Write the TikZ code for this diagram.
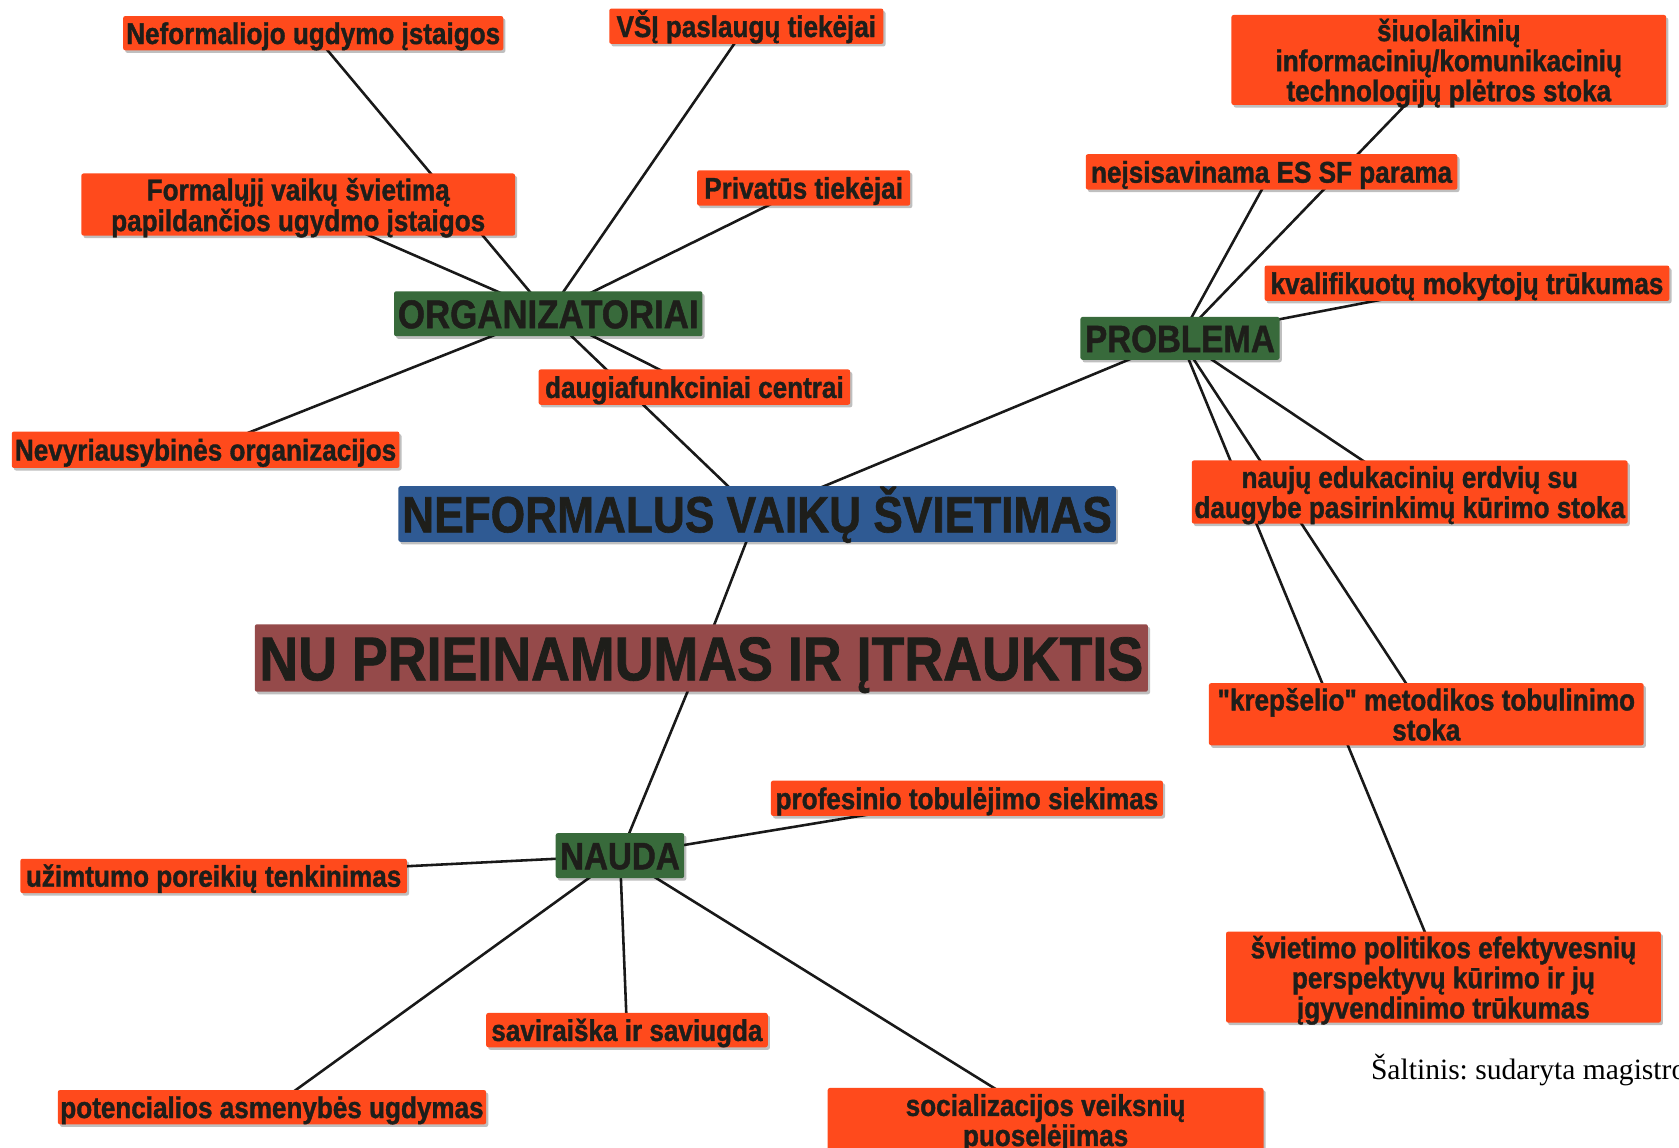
\documentclass[tikz,border=0pt]{standalone}
\usepackage{fontspec}
\newfontfamily\boxfont[FakeStretch=0.87, BoldFeatures={FakeBold=1.2}]{Liberation Sans}
\newfontfamily\srcfont{Liberation Serif}
\usetikzlibrary{shadows,backgrounds}
\definecolor{orangebox}{HTML}{FF4A1C}
\definecolor{greenbox}{HTML}{386A3B}
\definecolor{bluebox}{HTML}{2F5A93}
\definecolor{redbox}{HTML}{954A4A}
\definecolor{txt}{HTML}{1E1E1A}
\tikzset{
  box/.style={rectangle, rounded corners=1pt, inner sep=0pt, align=center, text=txt,
    text depth=0pt,
    drop shadow={shadow xshift=1pt, shadow yshift=-1.2pt, opacity=0.25, fill=black}},
  oneline/.style={text height=#1, text depth=0pt},
  leaf/.style={box, fill=orangebox, font=\boxfont\bfseries\fontsize{14}{13}\selectfont},
  leafone/.style={leaf, oneline=10.1pt},
  hub/.style={box, oneline=12.8pt, fill=greenbox, font=\boxfont\bfseries\fontsize{17.8}{18}\selectfont},
  rootbox/.style={box, oneline=17.1pt, fill=bluebox, font=\boxfont\bfseries\fontsize{23.75}{24}\selectfont},
  topbox/.style={box, oneline=20.8pt, fill=redbox, font=\boxfont\bfseries\fontsize{28.85}{29}\selectfont},
  wh/.style 2 args={minimum width=#1*0.5pt, minimum height=#2*0.5pt},
  link/.style={draw=black!90, line width=1.2pt},
}
\begin{document}
\begin{tikzpicture}[x=0.5pt,y=-0.5pt]
\useasboundingbox (0,0) rectangle (1568,1072);
\begin{scope}[on background layer]
  \fill[white] (0,0) rectangle (1568,1072);
\end{scope}

% ORGANIZATORIAI branch
\node[leafone, wh={355}{32}] (nefo) at (292.5,31) {Neformaliojo ugdymo įstaigos};
\node[leafone, wh={256}{33}] (vsi) at (697,24.5) {VŠĮ paslaugų tiekėjai};
\node[leaf, wh={405}{58}] (formal) at (278.5,191) {Formalųjį vaikų švietimą\\papildančios ugydmo įstaigos};
\node[leafone, wh={199}{33}] (priv) at (750.5,175.5) {Privatūs tiekėjai};
\node[hub, wh={288}{42}, oneline=13.5pt, font=\boxfont\bfseries\fontsize{18.7}{19}\selectfont] (org) at (512,293) {ORGANIZATORIAI};
\node[leafone, wh={291}{33}] (daug) at (648.5,361.5) {daugiafunkciniai centrai};
\node[leafone, wh={362}{34}] (nvo) at (192,420) {Nevyriausybinės organizacijos};

% centre
\node[rootbox, wh={670}{52}] (nef) at (707,480) {NEFORMALUS VAIKŲ ŠVIETIMAS};
\node[topbox, wh={834}{63}] (nu) at (655,614.5) {NU PRIEINAMUMAS IR ĮTRAUKTIS};

% PROBLEMA branch
\node[leaf, wh={406}{84}] (siuol) at (1353,56) {šiuolaikinių\\informacinių/komunikacinių\\technologijų plėtros stoka};
\node[leafone, wh={347}{33}] (neis) at (1187.5,160.5) {neįsisavinama ES SF parama};
\node[leafone, wh={378}{33}] (kval) at (1370,264.5) {kvalifikuotų mokytojų trūkumas};
\node[hub, wh={186}{40}] (prob) at (1102,316) {PROBLEMA};
\node[leaf, wh={407}{59}] (nauju) at (1316.5,459.5) {naujų edukacinių erdvių su\\daugybe pasirinkimų kūrimo stoka};
\node[leaf, wh={406}{58}] (krep) at (1332,667) {"krepšelio" metodikos tobulinimo\\stoka};
\node[leaf, wh={406}{85}] (svp) at (1348,912.5) {švietimo politikos efektyvesnių\\perspektyvų kūrimo ir jų\\įgyvendinimo trūkumas};

% NAUDA branch
\node[leafone, wh={366}{33}] (prof) at (903,745.5) {profesinio tobulėjimo siekimas};
\node[hub, wh={120}{42}] (nauda) at (579,799) {NAUDA};
\node[leafone, wh={361}{32}] (uzim) at (199.5,818) {užimtumo poreikių tenkinimas};
\node[leafone, wh={263}{32}] (savi) at (585.5,962) {saviraiška ir saviugda};
\node[leafone, wh={400}{32}] (pot) at (254,1034) {potencialios asmenybės ugdymas};
\node[leaf, wh={407}{60}] (soc) at (976.5,1046) {socializacijos veiksnių\\puoselėjimas};

\node[font=\srcfont\fontsize{13.8}{16}\selectfont\frenchspacing, anchor=base west, inner sep=0pt, text=black] (src) at (1280,1008) {Šaltinis: sudaryta magistro};

\begin{scope}[on background layer]
  \foreach \a in {nefo,formal,vsi,priv,daug,nvo,nef}
    \draw[link] (org.center) -- (\a.center);
  \foreach \a in {nef,siuol,neis,kval,nauju,krep,svp}
    \draw[link] (prob.center) -- (\a.center);
  \draw[link] (nef.center) -- (nu.center);
  \draw[link] (nu.center) -- (nauda.center);
  \foreach \a in {prof,uzim,savi,pot,soc}
    \draw[link] (nauda.center) -- (\a.center);
\end{scope}
\end{tikzpicture}
\end{document}
